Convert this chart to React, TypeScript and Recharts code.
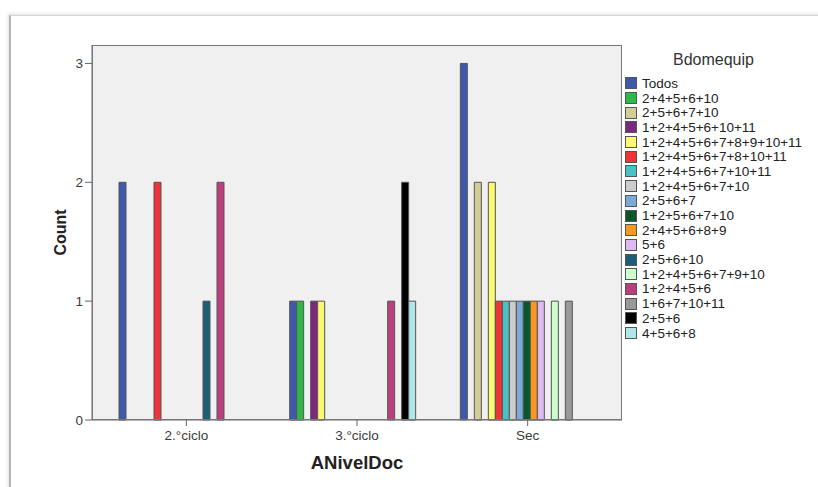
import React from 'react';
import { Bar, BarChart, XAxis, YAxis } from 'recharts';

const FONT = '"Liberation Sans", Arial, sans-serif';

const levels = ['2.°ciclo', '3.°ciclo', 'Sec'];

const groups = [
  'Todos',
  '2+4+5+6+10',
  '2+5+6+7+10',
  '1+2+4+5+6+10+11',
  '1+2+4+5+6+7+8+9+10+11',
  '1+2+4+5+6+7+8+10+11',
  '1+2+4+5+6+7+10+11',
  '1+2+4+5+6+7+10',
  '2+5+6+7',
  '1+2+5+6+7+10',
  '2+4+5+6+8+9',
  '5+6',
  '2+5+6+10',
  '1+2+4+5+6+7+9+10',
  '1+2+4+5+6',
  '1+6+7+10+11',
  '2+5+6',
  '4+5+6+8',
];

const colors = [
  '#3e58ac', '#2eb848', '#d3ce97', '#7c287d', '#fbf873', '#ef3338',
  '#48c2c5', '#cccccc', '#7aaad5', '#0a562c', '#f8981d', '#ddbaf1',
  '#1a5f76', '#ccffcc', '#bb3f7f', '#999999', '#000000', '#aee6ea',
];

// counts per group, in level order: 2.°ciclo, 3.°ciclo, Sec
const counts: (number | null)[][] = [
  [2, 1, 3],
  [null, 1, null],
  [null, null, 2],
  [null, 1, null],
  [null, 1, 2],
  [2, null, 1],
  [null, null, 1],
  [null, null, 1],
  [null, null, 1],
  [null, null, 1],
  [null, null, 1],
  [null, null, 1],
  [1, null, null],
  [null, null, 1],
  [2, 1, null],
  [null, null, 1],
  [null, 2, null],
  [null, 1, null],
];

const yTicks = [0, 1, 2, 3];

const data = levels.map((level, i) => {
  const row: Record<string, string | number | null> = { level };
  groups.forEach((g, j) => {
    row[g] = counts[j][i];
  });
  return row;
});

function LegendBox() {
  return (
    <div style={{ position: 'absolute', left: 625, top: 50, fontFamily: FONT }}>
      <div style={{ fontSize: 16, color: '#333', marginLeft: 48, marginBottom: 7, lineHeight: '19px' }}>Bdomequip</div>
      {groups.map((g, j) => (
        <div key={g} style={{ display: 'flex', alignItems: 'center', height: 14.7 }}>
          <span
            style={{
              width: 12,
              height: 12,
              background: colors[j],
              border: '1px solid #555',
              boxSizing: 'border-box',
              marginRight: 5,
              flex: 'none',
            }}
          />
          <span style={{ fontSize: 13.5, color: '#222', whiteSpace: 'nowrap' }}>{g}</span>
        </div>
      ))}
    </div>
  );
}

export default function App() {
  return (
    <div style={{ position: 'absolute', left: 0, top: 0, width: 818, height: 487, background: '#fff', overflow: 'hidden' }}>
      <div
        style={{
          position: 'absolute',
          left: 9,
          top: 15,
          width: 830,
          height: 500,
          borderTop: '1px solid #d6d6d6',
          borderLeft: '2px solid #b5b5b5',
          boxShadow: '-1px -1px 3px rgba(0,0,0,0.12)',
        }}
      />
      <div
        style={{
          position: 'absolute',
          left: 93,
          top: 46,
          width: 528,
          height: 373,
          background: '#f0f0f0',
        }}
      />
      <div style={{ position: 'absolute', left: 0, top: 0 }}>
        <BarChart
          width={818}
          height={487}
          data={data}
          margin={{ top: 45, right: 196, bottom: 0, left: 0 }}
          barCategoryGap={18}
          barGap={0}
        >
          <XAxis
            dataKey="level"
            padding={{ left: 9, right: 9 }}
            tickSize={6}
            stroke="#666"
            tick={{ fontSize: 13.5, fill: '#3a3a3a', fontFamily: FONT, dy: 2 }}
            height={67}
            label={{
              value: 'ANivelDoc',
              position: 'insideBottom',
              offset: 18,
              style: { fontSize: 18.5, fontWeight: 'bold', fill: '#222', fontFamily: FONT },
            }}
          />
          <YAxis
            width={92}
            domain={[0, 3.155]}
            ticks={yTicks}
            tickSize={7}
            stroke="#666"
            tick={{ fontSize: 13.5, fill: '#3a3a3a', fontFamily: FONT }}
            label={{
              value: 'Count',
              angle: -90,
              position: 'insideLeft',
              offset: 60,
              style: { fontSize: 16, fontWeight: 'bold', fill: '#222', fontFamily: FONT, textAnchor: 'middle' },
            }}
          />
          {groups.map((g, j) => (
            <Bar key={g} dataKey={g} fill={colors[j]} stroke="#555" strokeWidth={1} isAnimationActive={false} />
          ))}
        </BarChart>
      </div>
      <div
        style={{
          position: 'absolute',
          left: 92,
          top: 45,
          width: 530,
          height: 375,
          border: '1.5px solid #777',
          boxSizing: 'border-box',
          pointerEvents: 'none',
        }}
      />
      <LegendBox />
    </div>
  );
}
